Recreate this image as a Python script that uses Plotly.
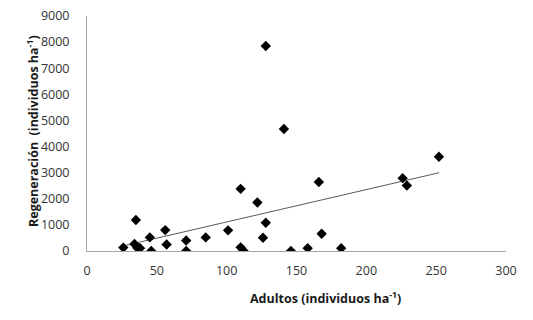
import numpy as np
import plotly.graph_objects as go

adultos = [26, 34, 36, 38, 35, 45, 46, 56, 57, 71, 71, 85, 101, 110, 110, 112,
           122, 126, 128, 128, 141, 146, 158, 166, 168, 182, 226, 229, 252]
regeneracion = [130, 270, 120, 110, 1190, 520, 0, 800, 250, 400, 0, 520, 790, 2380,
                140, 10, 1860, 510, 1080, 7850, 4670, 0, 110, 2640, 660, 110, 2790,
                2510, 3610]

x_ticks = [0, 50, 100, 150, 200, 250, 300]
y_ticks = [0, 1000, 2000, 3000, 4000, 5000, 6000, 7000, 8000, 9000]

slope, intercept = np.polyfit(adultos, regeneracion, 1)
xt = [min(adultos), max(adultos)]
yt = [slope * v + intercept for v in xt]

fig = go.Figure()
fig.add_trace(go.Scatter(x=xt, y=yt, mode="lines",
                         line=dict(color="#595959", width=1), showlegend=False))
fig.add_trace(go.Scatter(x=adultos, y=regeneracion, mode="markers",
                         marker=dict(symbol="diamond", size=8, color="black"),
                         showlegend=False))

L, R, T, B = 87, 27, 16, 69
PW, PH = 533 - L - R, 320 - T - B

font = "Open Sans, Liberation Sans, sans-serif"
fig.update_layout(
    width=533, height=320,
    margin=dict(l=L, r=R, t=T, b=B),
    plot_bgcolor="white", paper_bgcolor="white",
    font=dict(family=font, size=12, color="#333333"),
    xaxis=dict(range=[0, 300], tickvals=x_ticks, showgrid=False, zeroline=False,
               showline=True, linecolor="#A6A6A6", linewidth=1, ticks="",
               automargin=False, ticklabelstandoff=8,
               tickfont=dict(size=12.5, color="#333333")),
    yaxis=dict(range=[0, 9000], tickvals=y_ticks, showgrid=False, zeroline=False,
               showline=True, linecolor="#A6A6A6", linewidth=1, ticks="",
               automargin=False, ticklabelstandoff=14,
               tickfont=dict(size=12.5, color="#333333")),
    annotations=[
        dict(text="<b>Adultos (individuos ha<sup>-1</sup>)</b>",
             xref="paper", yref="paper", x=(325 - L) / PW, y=-(298 - (320 - B)) / PH,
             xanchor="center", yanchor="middle", showarrow=False,
             font=dict(size=12.5, color="#1a1a1a")),
        dict(text="<b>Regeneración  (individuos ha<sup>-1</sup>)</b>",
             xref="paper", yref="paper", x=-(L - 33) / PW, y=(320 - B - 131) / PH,
             xanchor="center", yanchor="middle", showarrow=False, textangle=-90,
             font=dict(size=12.5, color="#1a1a1a")),
    ],
)

fig.write_html("out.html", config={"displayModeBar": False},
               post_script="document.body.style.margin='0';")
